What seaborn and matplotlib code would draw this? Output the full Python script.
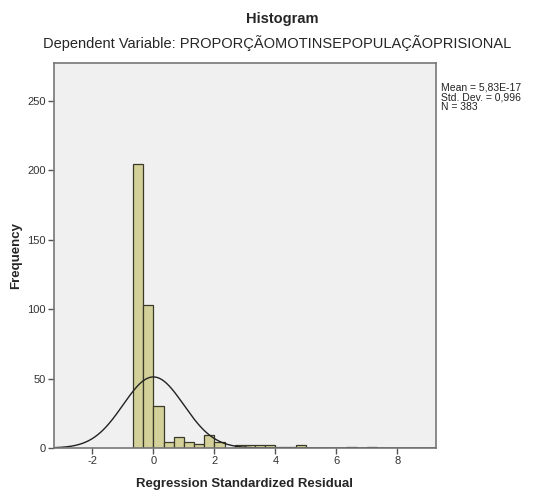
import numpy as np
import pandas as pd
import matplotlib
matplotlib.use('Agg')
import matplotlib.pyplot as plt
import seaborn as sns

# bin left edges (width 1/3) and counts
bin_left = [-2/3, -1/3, 0, 1/3, 2/3, 1, 4/3, 5/3, 2, 7/3, 8/3, 3, 10/3, 11/3,
            4, 13/3, 14/3, 5, 16/3, 17/3, 6, 19/3, 20/3, 7]
counts = [204, 103, 30, 4, 8, 4, 3, 9, 4, 0, 2, 2, 2, 2,
          1, 1, 2, 0, 0, 0, 0, 1, 0, 1]
bin_width = 1/3

mean = 5.83e-17
std = 0.996
n = 383

sns.set_style('white')
plt.rcParams['font.family'] = ['Liberation Sans', 'DejaVu Sans']
plt.rcParams['axes.unicode_minus'] = False

df = pd.DataFrame({'resid': np.array(bin_left) + bin_width / 2, 'count': counts})
edges = list(bin_left) + [bin_left[-1] + bin_width]

fig = plt.figure(figsize=(5.37, 4.94), dpi=100)
ax = fig.add_axes([54/537, 1 - 448/494, (436-54)/537, (448-63)/494])
ax.set_facecolor('#f0f0f0')

sns.histplot(data=df, x='resid', weights='count', bins=edges, ax=ax,
             color='#d4d09a', edgecolor='#3a3a2a', linewidth=0.9, alpha=1)

# normal curve from the reported mean / std dev / N
xs = np.linspace(-3.3, 9.3, 400)
ys = n * bin_width * np.exp(-0.5 * ((xs - mean) / std) ** 2) / (std * np.sqrt(2 * np.pi))
sns.lineplot(x=xs, y=ys, ax=ax, color='#222222', linewidth=1.0)

ax.set_xlim(-3.26, 9.27)
ax.set_ylim(0, 277)
ax.set_xticks([-2, 0, 2, 4, 6, 8])
ax.set_yticks([0, 50, 100, 150, 200, 250])
ax.tick_params(axis='both', direction='out', length=4, width=1, color='#555555',
               labelsize=8, labelcolor='#333333', pad=2)
ax.tick_params(axis='both', bottom=True, left=True)
for s in ax.spines.values():
    s.set_color('#777777')
    s.set_linewidth(1.2)

ax.set_xlabel('Regression Standardized Residual', fontsize=9.5, fontweight='bold')
ax.set_ylabel('Frequency', fontsize=9.5, fontweight='bold')
ax.xaxis.set_label_coords((245 - 54) / 382, -30/385)
ax.yaxis.set_label_coords(-32/382, 0.5)

fig.text(282/537, 1 - 19/494, 'Histogram', ha='center', va='center',
         fontsize=10.5, fontweight='bold')
fig.text(277/537, 1 - 43/494,
         'Dependent Variable: PROPORÇÃOMOTINSEPOPULAÇÃOPRISIONAL',
         ha='center', va='center', fontsize=10.5)
fig.text(441/537, 1 - 83/494, 'Mean = 5,83E-17\nStd. Dev. = 0,996\nN = 383',
         ha='left', va='top', fontsize=7.5, linespacing=0.95, color='#222222')

fig.savefig('out.png', dpi=100, facecolor='white')
